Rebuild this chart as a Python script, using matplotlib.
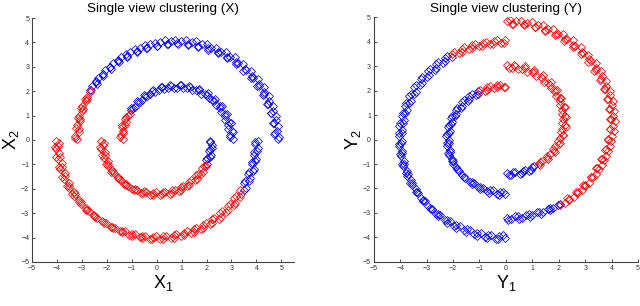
import numpy as np
import matplotlib
matplotlib.use("Agg")
import matplotlib.pyplot as plt

plt.rcParams["font.family"] = ["Liberation Sans", "DejaVu Sans"]
plt.rcParams["mathtext.fontset"] = "custom"
plt.rcParams["mathtext.rm"] = "Liberation Sans"

# view X, points, grouped by the cluster colour
x_blue = [
    # outer upper arc
    (4.86, 0.05), (4.72, 0.24), (4.83, 0.38), (4.70, 0.69), (4.78, 0.80), (4.60, 1.09),
    (4.66, 1.20), (4.48, 1.47), (4.52, 1.58), (4.31, 1.88), (4.30, 1.96), (4.10, 2.23),
    (4.09, 2.31), (3.85, 2.55), (3.82, 2.63), (3.58, 2.88), (3.53, 2.92), (3.27, 3.16),
    (3.19, 3.20), (2.93, 3.41), (2.84, 3.42), (2.58, 3.62), (2.46, 3.60), (2.20, 3.79),
    (2.07, 3.76), (1.80, 3.92), (1.66, 3.87), (1.40, 4.01), (1.25, 3.94), (0.98, 4.05),
    (0.83, 3.96), (0.56, 4.06), (0.41, 3.94), (0.14, 4.01), (0.00, 3.87), (-0.27, 3.92),
    (-0.41, 3.76), (-0.66, 3.79), (-0.80, 3.61), (-1.06, 3.62), (-1.17, 3.42), (-1.42, 3.41),
    (-1.52, 3.20), (-1.76, 3.16), (-1.85, 2.93), (-2.07, 2.88), (-2.14, 2.64), (-2.36, 2.56),
    (-2.40, 2.31), (-2.60, 2.22),
    (4.90, 0.14), (4.74, 0.27), (4.85, 0.57), (4.66, 0.70), (4.79, 0.98), (4.58, 1.10),
    (4.66, 1.41), (4.44, 1.49), (4.50, 1.79), (4.26, 1.86), (4.30, 2.16), (4.03, 2.21),
    (4.05, 2.52), (3.77, 2.55), (3.79, 2.83), (3.48, 2.84), (3.47, 3.12), (3.17, 3.11),
    (3.14, 3.39), (2.82, 3.35), (2.78, 3.61), (2.45, 3.55), (2.40, 3.79), (2.07, 3.70),
    (2.00, 3.95), (1.66, 3.83), (1.59, 4.04), (1.26, 3.90), (1.16, 4.09), (0.85, 3.93),
    (0.74, 4.11), (0.44, 3.92), (0.33, 4.08), (0.02, 3.87), (-0.08, 3.99), (-0.40, 3.78),
    (-0.48, 3.88), (-0.80, 3.63), (-0.85, 3.72), (-1.18, 3.45), (-1.21, 3.52), (-1.54, 3.23),
    (-1.55, 3.28), (-1.88, 2.98), (-1.86, 3.00), (-2.17, 2.70), (-2.14, 2.72), (-2.45, 2.40),
    (-2.42, 2.37), (-2.68, 2.05),
    # inner upper arc
    (3.05, 0.04), (2.94, 0.22), (3.02, 0.36), (2.88, 0.61), (2.91, 0.72), (2.74, 0.97),
    (2.75, 1.06), (2.55, 1.31), (2.53, 1.38), (2.31, 1.60), (2.24, 1.65), (2.02, 1.84),
    (1.93, 1.87), (1.70, 2.04), (1.58, 2.03), (1.34, 2.18), (1.20, 2.13), (0.97, 2.24),
    (0.82, 2.15), (0.58, 2.23), (0.44, 2.12), (0.20, 2.17), (0.08, 2.03), (-0.16, 2.03),
    (-0.27, 1.87), (-0.50, 1.84), (-0.58, 1.65), (-0.80, 1.60), (-0.86, 1.37), (-1.04, 1.30),
    (2.93, 0.12), (3.06, 0.31), (2.88, 0.45), (2.99, 0.71), (2.76, 0.81), (2.84, 1.08),
    (2.60, 1.14), (2.64, 1.41), (2.37, 1.45), (2.36, 1.69), (2.09, 1.71), (2.04, 1.93),
    (1.78, 1.90), (1.69, 2.10), (1.43, 2.05), (1.31, 2.22), (1.06, 2.12), (0.93, 2.27),
    (0.68, 2.14), (0.53, 2.26), (0.30, 2.10), (0.17, 2.17), (-0.05, 1.97), (-0.17, 2.02),
    (-0.38, 1.80), (-0.48, 1.82), (-0.68, 1.57), (-0.76, 1.56), (-0.93, 1.30), (-1.01, 1.24),
    # outer lower arc, right end
    (3.50, -2.04), (3.52, -1.78), (3.70, -1.67), (3.68, -1.40), (3.85, -1.27), (3.81, -1.00),
    (3.96, -0.86), (3.90, -0.60), (4.03, -0.45), (3.95, -0.18), (4.05, -0.03),
    (3.58, -1.95), (3.56, -1.68), (3.76, -1.57), (3.72, -1.30), (3.90, -1.18), (3.84, -0.89),
    (3.99, -0.76), (3.92, -0.48), (4.05, -0.34), (3.95, -0.07),
    # inner lower arc, right end
    (2.03, -0.97), (2.03, -0.72), (2.17, -0.61), (2.13, -0.35), (2.23, -0.22), (2.15, -0.03),
    (1.98, -0.80), (2.15, -0.70), (2.11, -0.45), (2.23, -0.32), (2.16, -0.07),
]

x_red = [
    # outer upper arc, left end
    (-2.62, 2.04), (-2.81, 1.78), (-2.80, 1.67), (-2.98, 1.40), (-2.95, 1.27), (-3.10, 1.00),
    (-3.06, 0.86), (-3.20, 0.60), (-3.13, 0.45), (-3.26, 0.18), (-3.19, 0.04),
    (-2.66, 1.97), (-2.88, 1.68), (-2.83, 1.58), (-3.05, 1.31), (-2.98, 1.18), (-3.16, 0.90),
    (-3.07, 0.77), (-3.24, 0.49), (-3.13, 0.34), (-3.28, 0.08),
    # inner upper arc, left end
    (-1.08, 1.06), (-1.23, 0.96), (-1.24, 0.72), (-1.37, 0.60), (-1.34, 0.35), (-1.43, 0.21),
    (-1.36, 0.03),
    (-1.13, 0.98), (-1.28, 0.88), (-1.27, 0.63), (-1.40, 0.52), (-1.33, 0.27), (-1.45, 0.12),
    # outer lower arc
    (-4.03, -0.04), (-3.94, -0.25), (-4.05, -0.38), (-3.89, -0.68), (-3.97, -0.79), (-3.80, -1.09),
    (-3.86, -1.20), (-3.67, -1.48), (-3.71, -1.58), (-3.50, -1.87), (-3.52, -1.96), (-3.29, -2.23),
    (-3.30, -2.31), (-3.05, -2.56), (-3.03, -2.64), (-2.78, -2.88), (-2.73, -2.93), (-2.46, -3.15),
    (-2.40, -3.20), (-2.13, -3.40), (-2.04, -3.42), (-1.77, -3.62), (-1.67, -3.60), (-1.38, -3.79),
    (-1.28, -3.75), (-0.99, -3.92), (-0.87, -3.86), (-0.58, -4.01), (-0.46, -3.93), (-0.17, -4.05),
    (-0.04, -3.95), (0.25, -4.05), (0.38, -3.93), (0.68, -4.00), (0.79, -3.86), (1.09, -3.91),
    (1.20, -3.75), (1.48, -3.78), (1.58, -3.60), (1.87, -3.61), (1.96, -3.41), (2.23, -3.40),
    (2.31, -3.19), (2.57, -3.16), (2.64, -2.92), (2.88, -2.88), (2.93, -2.63), (3.16, -2.57),
    (3.20, -2.30), (3.40, -2.23),
    (-3.92, -0.12), (-4.08, -0.29), (-3.90, -0.55), (-4.02, -0.70), (-3.81, -0.95), (-3.93, -1.10),
    (-3.69, -1.37), (-3.79, -1.50), (-3.53, -1.75), (-3.61, -1.87), (-3.33, -2.13), (-3.39, -2.23),
    (-3.10, -2.48), (-3.13, -2.56), (-2.83, -2.79), (-2.84, -2.85), (-2.53, -3.08), (-2.52, -3.12),
    (-2.20, -3.34), (-2.16, -3.36), (-1.85, -3.57), (-1.78, -3.56), (-1.48, -3.75), (-1.39, -3.72),
    (-1.09, -3.89), (-0.98, -3.85), (-0.68, -3.98), (-0.57, -3.93), (-0.27, -4.04), (-0.15, -3.96),
    (0.15, -4.06), (0.26, -3.94), (0.57, -4.03), (0.68, -3.89), (0.98, -3.95), (1.09, -3.80),
    (1.39, -3.83), (1.48, -3.65), (1.77, -3.67), (1.86, -3.47), (2.14, -3.46), (2.22, -3.25),
    (2.49, -3.22), (2.55, -2.99), (2.80, -2.95), (2.85, -2.70), (3.09, -2.65), (3.12, -2.39),
    (3.35, -2.32), (3.36, -2.04),
    # inner lower arc
    (-2.24, -0.03), (-2.14, -0.22), (-2.22, -0.35), (-2.08, -0.61), (-2.12, -0.72), (-1.94, -0.97),
    (-1.95, -1.06), (-1.75, -1.30), (-1.73, -1.37), (-1.51, -1.60), (-1.44, -1.65), (-1.22, -1.85),
    (-1.13, -1.87), (-0.89, -2.04), (-0.78, -2.03), (-0.53, -2.18), (-0.41, -2.13), (-0.15, -2.24),
    (-0.03, -2.15), (0.23, -2.23), (0.35, -2.12), (0.61, -2.17), (0.72, -2.03), (0.97, -2.03),
    (1.06, -1.87), (1.30, -1.84), (1.38, -1.65), (1.60, -1.60), (1.65, -1.38), (1.84, -1.30),
    (1.88, -1.07),
    (-2.13, -0.12), (-2.26, -0.27), (-2.08, -0.50), (-2.19, -0.63), (-1.96, -0.87), (-2.04, -0.98),
    (-1.79, -1.21), (-1.83, -1.30), (-1.56, -1.53), (-1.55, -1.57), (-1.29, -1.79), (-1.24, -1.81),
    (-0.98, -2.01), (-0.88, -2.00), (-0.62, -2.16), (-0.51, -2.11), (-0.25, -2.24), (-0.13, -2.16),
    (0.14, -2.26), (0.26, -2.14), (0.52, -2.20), (0.63, -2.06), (0.88, -2.08), (0.98, -1.91),
    (1.22, -1.90), (1.30, -1.71), (1.53, -1.66), (1.58, -1.45), (1.79, -1.38), (1.82, -1.14),
    (1.99, -1.06),
]

# view Y holds the same samples with the two coordinates exchanged,
# and its clustering puts them in the opposite colours
y_red = [(b, a) for a, b in x_blue]
y_blue = [(b, a) for a, b in x_red]

titles = ["Single view clustering (X)", "Single view clustering (Y)"]
xlabels = [r"$\mathregular{X_1}$", r"$\mathregular{Y_1}$"]
ylabels = [r"$\mathregular{X_2}$", r"$\mathregular{Y_2}$"]
ticks = [-5, -4, -3, -2, -1, 0, 1, 2, 3, 4, 5]

fig = plt.figure(figsize=(6.4, 3.06), dpi=100)
ax1 = fig.add_axes([0.050, 0.144, 0.409, 0.797])
ax2 = fig.add_axes([0.584, 0.144, 0.413, 0.800])

views = [(ax1, x_red, x_blue, (-5, 5.5)), (ax2, y_red, y_blue, (-5, 5))]
for i, (ax, red, blue, xl) in enumerate(views):
    r = np.array(red)
    b = np.array(blue)
    ax.plot(b[:, 0], b[:, 1], "D", mfc="none", mec=(0, 0, 1), ms=3.9, mew=0.55)
    ax.plot(r[:, 0], r[:, 1], "D", mfc="none", mec=(1, 0, 0), ms=3.9, mew=0.55)
    ax.set_xlim(*xl)
    ax.set_ylim(-5, 5)
    ax.set_xticks(ticks)
    ax.set_yticks(ticks)
    ax.spines["top"].set_visible(False)
    ax.spines["right"].set_visible(False)
    for s in ("left", "bottom"):
        ax.spines[s].set_color("#444444")
        ax.spines[s].set_linewidth(0.8)
    ax.tick_params(direction="in", length=2, width=0.6, labelsize=5, pad=2,
                   colors="#333333")
    ax.set_title(titles[i], fontsize=9.7, pad=4)
    ax.set_xlabel(xlabels[i], fontsize=13, labelpad=1)
    ax.set_ylabel(ylabels[i], fontsize=13, labelpad=0)

fig.savefig("out.png", dpi=100)
